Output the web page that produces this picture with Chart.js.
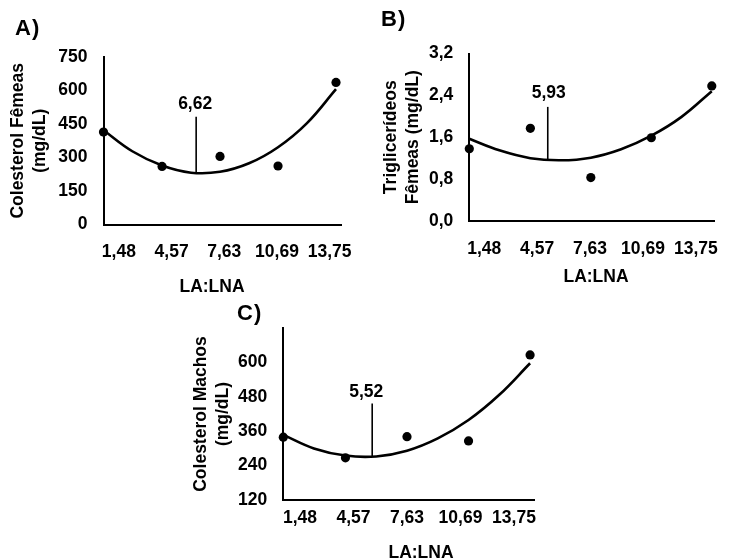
<!DOCTYPE html>
<html><head><meta charset="utf-8">
<script src="https://cdn.jsdelivr.net/npm/chart.js@4.4.1/dist/chart.umd.min.js"></script>
<style>
html,body{margin:0;padding:0;background:#fff;}
#page{position:relative;width:737px;height:558px;overflow:hidden;font-family:"Liberation Sans",Arial,sans-serif;background:#fff;}
canvas{position:absolute;}
.txt{position:absolute;font-weight:bold;color:#000;white-space:nowrap;}
.letter{font-size:22px;line-height:22px;letter-spacing:1px;}
.xt{font-size:17.5px;line-height:17px;transform:translateX(-50%);}
</style></head><body>
<div id="page">
  <canvas id="cA" width="370" height="300" style="left:0;top:0;width:370px;height:300px"></canvas>
  <canvas id="cB" width="367" height="300" style="left:370px;top:0;width:367px;height:300px"></canvas>
  <canvas id="cC" width="380" height="258" style="left:180px;top:300px;width:380px;height:258px"></canvas>
  <div class="txt letter" style="left:15px;top:17px">A)</div>
  <div class="txt letter" style="left:381px;top:8px">B)</div>
  <div class="txt letter" style="left:237px;top:302px">C)</div>
  <div class="txt xt" style="left:212px;top:278px">LA:LNA</div>
  <div class="txt xt" style="left:596px;top:268px">LA:LNA</div>
  <div class="txt xt" style="left:421px;top:544px">LA:LNA</div>
</div>
<script>
// ---- data ----
const xValues = [1.48, 4.57, 7.63, 10.69, 13.75];
const xTickLabels = ['1,48', '4,57', '7,63', '10,69', '13,75'];

const colFemeas = [414, 260, 305, 262, 636];
const triFemeas = [1.38, 1.77, 0.83, 1.59, 2.58];
const colMachos = [339, 267, 341, 326, 626];

// fitted curves
const curveX = [1.48, 3.0, 4.57, 6.1, 7.63, 9.16, 10.69, 12.22, 13.75];
const curveColFemeas = [422, 328, 264, 232, 236, 274, 346, 454, 606];
const curveTriFemeas = [1.57, 1.35, 1.20, 1.16, 1.21, 1.37, 1.63, 1.99, 2.48];
const curveColMachos = [347, 300, 275, 272, 292, 335, 399, 487, 597];

// optimum markers (position as drawn, and their labels)
const optX = [6.37, 5.45, 5.90];
const optBottom = [231, 1.16, 272];
const optTop = [482, 2.18, 457];
const optLabels = ['6,62', '5,93', '5,52'];

const yTicksA = [0, 150, 300, 450, 600, 750];
const yTicksB = [0, 0.8, 1.6, 2.4, 3.2];
const yTicksC = [120, 240, 360, 480, 600];

const FONT = '"Liberation Sans", Arial, sans-serif';

const optLabelPlugin = {
  id: 'optLabel',
  afterDatasetsDraw(chart, args, opts) {
    const ds = chart.data.datasets[1];
    const top = ds.data[1];
    const x = chart.scales.x.getPixelForValue(top.x) + (opts.dx || 0);
    const y = chart.scales.y.getPixelForValue(top.y) - opts.dy;
    const ctx = chart.ctx;
    ctx.save();
    ctx.font = 'bold 17.5px ' + FONT;
    ctx.textAlign = 'center';
    ctx.textBaseline = 'middle';
    ctx.fillStyle = '#000';
    ctx.fillText(opts.text, x, y);
    ctx.restore();
  }
};

function makeChart(id, c) {
  const pts = xValues.map((x, i) => ({x: x, y: c.values[i]}));
  const curve = curveX.map((x, i) => ({x: x, y: c.curve[i]}));
  const vline = [{x: optX[c.k], y: optBottom[c.k]}, {x: optX[c.k], y: optTop[c.k]}];
  return new Chart(document.getElementById(id), {
    data: {
      datasets: [
        {type: 'line', data: curve, borderColor: '#000', borderWidth: 2.6, pointRadius: 0, tension: 0.4, fill: false, clip: false},
        {type: 'line', data: vline, borderColor: '#000', borderWidth: 1.6, pointRadius: 0, tension: 0, fill: false, clip: false},
        {type: 'scatter', data: pts, backgroundColor: '#000', borderColor: '#000', pointRadius: 4.6, borderWidth: 0, clip: false}
      ]
    },
    options: {
      responsive: false,
      animation: false,
      events: [],
      layout: {padding: {top: c.top, right: c.right, bottom: 0, left: 0}},
      plugins: {
        legend: {display: false},
        tooltip: {enabled: false},
        optLabel: {text: optLabels[c.k], dx: c.ldx, dy: c.ldy}
      },
      scales: {
        x: {
          type: 'linear', position: 'bottom', weight: 0,
          min: 1.48, max: c.xMax,
          grid: {display: false, drawTicks: false},
          border: {display: true, color: '#000', width: 2},
          ticks: {display: false},
          afterFit: s => { s.height = 0; }
        },
        xl: {
          type: 'linear', position: 'bottom', weight: 1,
          min: c.lMin, max: c.lMax,
          grid: {display: false, drawTicks: false},
          border: {display: false},
          ticks: {
            padding: c.lPad, color: '#000', maxRotation: 0, autoSkip: false,
            font: {family: FONT, size: 17.5, weight: 'bold'},
            callback: v => xTickLabels[v]
          },
          afterBuildTicks: s => { s.ticks = xTickLabels.map((_, i) => ({value: i})); },
          afterFit: s => { s.height = c.bottomH; }
        },
        y: {
          type: 'linear', position: 'left',
          min: c.yMin, max: c.yMax,
          grid: {display: false, drawTicks: false},
          border: {display: true, color: '#000', width: 2},
          ticks: {
            padding: 16, color: '#000', autoSkip: false,
            font: {family: FONT, size: 17.5, weight: 'bold'},
            callback: c.fmt
          },
          afterBuildTicks: s => { s.ticks = c.yTicks.map(v => ({value: v})); },
          title: {
            display: true, text: c.yTitle, color: '#000',
            font: {family: FONT, size: 17.5, weight: 'bold', lineHeight: 22 / 17.5},
            padding: {top: c.tPad, bottom: 0}
          },
          afterFit: s => { s.width = c.left; }
        }
      }
    },
    plugins: [optLabelPlugin]
  });
}

makeChart('cA', {
  k: 0, values: colFemeas, curve: curveColFemeas,
  top: 57, right: 19, left: 103.5, bottomH: 75.5,
  xMax: 14.04, lMin: -0.292, lMax: 4.224, lPad: 17,
  yMin: 0, yMax: 750, yTicks: yTicksA, fmt: v => String(v),
  yTitle: ['Colesterol Fêmeas', '(mg/dL)'], tPad: 7.5,
  ldx: -1, ldy: 12.7
});

makeChart('cB', {
  k: 1, values: triFemeas, curve: curveTriFemeas,
  top: 53.5, right: 8.3, left: 99.3, bottomH: 79,
  xMax: 13.91, lMin: -0.281, lMax: 4.36, lPad: 17.5,
  yMin: 0, yMax: 3.2, yTicks: yTicksB, fmt: v => v.toFixed(1).replace('.', ','),
  yTitle: ['Triglicerídeos', 'Fêmeas (mg/dL)'], tPad: 10.5,
  ldx: 1, ldy: 14
});

makeChart('cC', {
  k: 2, values: colMachos, curve: curveColMachos,
  top: 28, right: 25.7, left: 103.3, bottomH: 58,
  xMax: 13.96, lMin: -0.312, lMax: 4.379, lPad: 8,
  yMin: 120, yMax: 720, yTicks: yTicksC, fmt: v => String(v),
  yTitle: ['Colesterol Machos', '(mg/dL)'], tPad: 10.5,
  ldx: -6, ldy: 11.7
});
</script>
</body></html>
